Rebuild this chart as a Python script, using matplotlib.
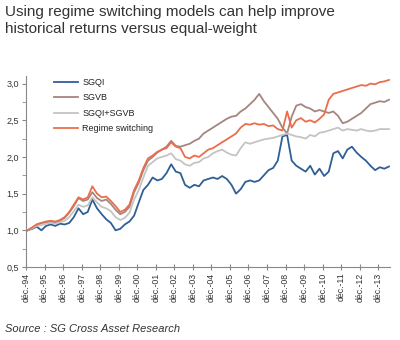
import numpy as np
import pandas as pd
import matplotlib
matplotlib.use("Agg")
import matplotlib.pyplot as plt

plt.rcParams['font.family'] = ['Liberation Sans', 'DejaVu Sans']

# quarter-end dates, dec-94 .. jun-14
dates = pd.date_range('1994-12-31', periods=79, freq='QE')

sgqi = [1.00,
        1.02, 1.05, 1.00, 1.06,
        1.08, 1.06, 1.09, 1.08,
        1.10, 1.18, 1.30, 1.22,
        1.25, 1.42, 1.30, 1.22,
        1.15, 1.10, 1.00, 1.02,
        1.08, 1.12, 1.20, 1.38,
        1.55, 1.62, 1.72, 1.68,
        1.70, 1.78, 1.90, 1.80,
        1.78, 1.62, 1.58, 1.62,
        1.60, 1.68, 1.70, 1.72,
        1.70, 1.74, 1.70, 1.62,
        1.50, 1.56, 1.66, 1.68,
        1.66, 1.68, 1.75, 1.82,
        1.85, 1.95, 2.28, 2.30,
        1.95, 1.88, 1.84, 1.80,
        1.88, 1.76, 1.84, 1.74,
        1.80, 2.05, 2.08, 1.98,
        2.10, 2.14, 2.06, 2.00,
        1.95, 1.88, 1.82, 1.86,
        1.84, 1.87]

sgvb = [1.00,
        1.03, 1.08, 1.10, 1.11,
        1.12, 1.10, 1.13, 1.17,
        1.24, 1.33, 1.44, 1.40,
        1.42, 1.52, 1.44, 1.40,
        1.42, 1.36, 1.28, 1.22,
        1.25, 1.32, 1.52, 1.65,
        1.82, 1.95, 2.00, 2.06,
        2.10, 2.14, 2.22, 2.15,
        2.14, 2.16, 2.18, 2.22,
        2.25, 2.32, 2.36, 2.40,
        2.44, 2.48, 2.52, 2.55,
        2.56, 2.62, 2.66, 2.72,
        2.78, 2.86, 2.76, 2.68,
        2.60, 2.52, 2.40, 2.32,
        2.55, 2.70, 2.72, 2.68,
        2.66, 2.62, 2.64, 2.62,
        2.60, 2.62, 2.56, 2.46,
        2.48, 2.52, 2.56, 2.60,
        2.66, 2.72, 2.74, 2.76,
        2.75, 2.78]

sgqi_sgvb = [1.00,
             1.03, 1.06, 1.07, 1.09,
             1.10, 1.09, 1.11, 1.13,
             1.18, 1.26, 1.35, 1.32,
             1.34, 1.45, 1.38, 1.32,
             1.30, 1.26, 1.18, 1.14,
             1.17, 1.24, 1.42, 1.55,
             1.72, 1.88, 1.93, 1.98,
             2.00, 2.02, 2.05, 1.97,
             1.95, 1.90, 1.88, 1.92,
             1.93, 1.98, 2.00, 2.05,
             2.08, 2.10, 2.06, 2.03,
             2.02, 2.12, 2.20, 2.18,
             2.20, 2.22, 2.24, 2.25,
             2.26, 2.28, 2.30, 2.32,
             2.30, 2.28, 2.27, 2.25,
             2.30, 2.28, 2.33, 2.34,
             2.36, 2.38, 2.40, 2.36,
             2.38, 2.37, 2.36, 2.38,
             2.36, 2.35, 2.36, 2.38,
             2.38, 2.38]

regime = [1.00,
          1.04, 1.08, 1.10, 1.12,
          1.13, 1.12, 1.14, 1.18,
          1.25, 1.35, 1.45, 1.42,
          1.45, 1.60, 1.50, 1.45,
          1.46, 1.40, 1.33, 1.25,
          1.28, 1.35, 1.55, 1.68,
          1.85, 1.98, 2.02, 2.07,
          2.10, 2.12, 2.20, 2.14,
          2.12, 2.00, 1.98, 2.02,
          2.00, 2.05, 2.10, 2.12,
          2.16, 2.20, 2.24, 2.28,
          2.32, 2.40, 2.45, 2.44,
          2.46, 2.44, 2.45, 2.42,
          2.43, 2.38, 2.36, 2.62,
          2.40, 2.50, 2.53, 2.48,
          2.50, 2.47, 2.52, 2.58,
          2.78, 2.86, 2.88, 2.90,
          2.92, 2.94, 2.96, 2.98,
          2.97, 3.00, 2.99, 3.02,
          3.03, 3.05]

names = ['SGQI', 'SGVB', 'SGQI+SGVB', 'Regime switching']
colors = ['#2F5F95', '#A5857F', '#C4C4C4', '#EA6E4C']

tick_dates = pd.date_range('1994-12-01', '2013-12-01', freq='12MS')
tick_labels = ['déc.-%02d' % (d.year % 100) for d in tick_dates]

fig = plt.figure(figsize=(4, 3.4), dpi=100)
ax = fig.add_axes([0.065, 0.2147, 0.91, 0.561])

for vals, name, c in zip([sgqi, sgvb, sgqi_sgvb, regime], names, colors):
    ax.plot(dates, vals, color=c, lw=1.3, label=name)

ax.set_ylim(0.5, 3.1)
ax.set_xlim(pd.Timestamp('1994-12-01'), pd.Timestamp('2014-07-20'))
ax.set_yticks([0.5, 1.0, 1.5, 2.0, 2.5, 3.0])
ax.set_yticklabels(['0,5', '1,0', '1,5', '2,0', '2,5', '3,0'])
ax.set_yticks([0.75, 1.25, 1.75, 2.25, 2.75], minor=True)
ax.set_xticks(tick_dates)
ax.set_xticklabels(tick_labels, rotation=90)

for s in ['top', 'right']:
    ax.spines[s].set_visible(False)
for s in ['left', 'bottom']:
    ax.spines[s].set_color('#888888')
    ax.spines[s].set_linewidth(0.8)
ax.tick_params(axis='y', which='both', length=3, color='#888888', labelsize=6.5,
               labelcolor='#333333', pad=2)
ax.tick_params(axis='x', length=4, direction='inout', color='#888888', labelsize=6.3,
               labelcolor='#333333', pad=2)

leg = ax.legend(loc='upper left', bbox_to_anchor=(0.055, 1.035), frameon=False,
                fontsize=6.5, handlelength=2.6, handletextpad=0.5, labelspacing=0.72)
for t in leg.get_texts():
    t.set_color('#222222')

fig.text(0.012, 0.985, 'Using regime switching models can help improve\nhistorical returns versus equal-weight',
         fontsize=11, color='#333333', va='top', ha='left', linespacing=1.3)
fig.text(0.012, 0.032, 'Source : SG Cross Asset Research', fontsize=8, style='italic',
         color='#333333', va='center', ha='left')

fig.savefig('out.png', dpi=100)
